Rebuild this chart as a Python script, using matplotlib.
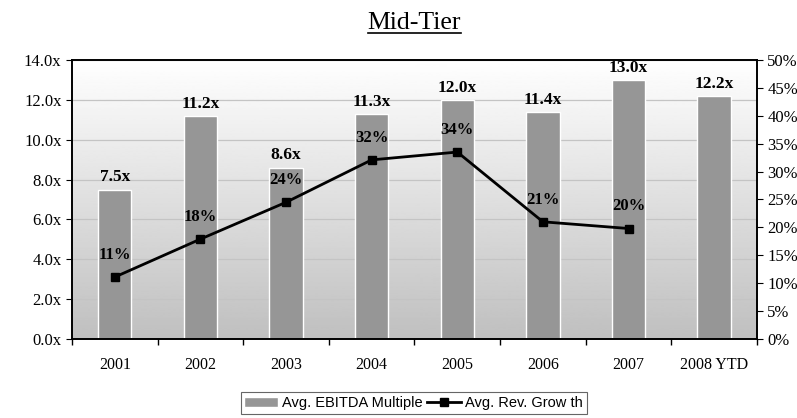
import numpy as np
import matplotlib.pyplot as plt
from matplotlib.ticker import FuncFormatter, FixedLocator

# ---- data ----
years = ["2001", "2002", "2003", "2004", "2005", "2006", "2007", "2008 YTD"]
ebitda_multiple = [7.5, 11.2, 8.6, 11.3, 12.0, 11.4, 13.0, 12.2]
rev_growth = [11.1, 17.9, 24.5, 32.1, 33.5, 21.0, 19.8]
rev_growth_labels = ["11%", "18%", "24%", "32%", "34%", "21%", "20%"]

serif = "Liberation Serif"
sans = "Liberation Sans"

fig = plt.figure(figsize=(7.97, 4.18), dpi=100)
ax = fig.add_axes([0.0903, 0.189, 0.8595, 0.6675])
ax2 = ax.twinx()

x = np.arange(len(years))

# gradient background (white at top -> light gray at bottom)
grad = np.linspace(0.75, 1.0, 256).reshape(-1, 1)
ax.imshow(grad, extent=[0, 1, 0, 1], transform=ax.transAxes, origin="lower",
          cmap="gray", vmin=0, vmax=1, aspect="auto", zorder=0)

ax.set_xlim(-0.5, len(years) - 0.5)
ax.set_ylim(0, 14)
ax.yaxis.set_major_locator(FixedLocator(np.arange(0, 14.1, 2)))
ax.yaxis.set_major_formatter(FuncFormatter(lambda v, p: f"{v:.1f}x"))
ax.grid(axis="y", color="#c4c4c4", linewidth=0.9, zorder=1)

bars = ax.bar(x, ebitda_multiple, width=0.39, color="#969696", edgecolor="white",
              linewidth=1.0, zorder=2, label="Avg. EBITDA Multiple")
for xi, v in zip(x, ebitda_multiple):
    ax.annotate(f"{v:.1f}x", (xi, v), xytext=(0, 3), textcoords="offset points",
                ha="center", va="bottom", fontsize=12.5, fontweight="bold",
                family=serif, zorder=5)

ax.set_xticks(x)
ax.set_xticklabels(years, family=serif, fontsize=11.5)
ax.set_xticks(np.arange(-0.5, len(years) - 0.4, 1.0), minor=True)
ax.tick_params(axis="x", which="major", length=0, pad=13)
ax.tick_params(axis="x", which="minor", length=4, direction="out", width=1)
ax.tick_params(axis="y", length=4, direction="out", labelsize=12)
for lab in ax.get_yticklabels():
    lab.set_family(serif)

# line on secondary axis
ax2.set_ylim(0, 50)
ax2.yaxis.set_major_locator(FixedLocator(np.arange(0, 51, 5)))
ax2.yaxis.set_major_formatter(FuncFormatter(lambda v, p: f"{v:.0f}%"))
ax2.tick_params(axis="y", length=4, direction="out", labelsize=12)
for lab in ax2.get_yticklabels():
    lab.set_family(serif)
xl = x[:len(rev_growth)]
line, = ax2.plot(xl, rev_growth, color="black", linewidth=2, marker="s",
                 markersize=6, label="Avg. Rev. Grow th")
for xi, v, t in zip(xl, rev_growth, rev_growth_labels):
    ax2.annotate(t, (xi, v), xytext=(0, 16), textcoords="offset points",
                 ha="center", va="center", fontsize=12, fontweight="bold",
                 family=serif)

for a in (ax, ax2):
    for s in a.spines.values():
        s.set_color("black")
        s.set_linewidth(1.2)

title = fig.text(0.52, 0.93, "Mid-Tier", ha="center", va="baseline",
                 fontsize=18.5, family=serif)
# underline for title, sized to the text
fig.canvas.draw()
bb = title.get_window_extent().transformed(fig.transFigure.inverted())
fig.add_artist(plt.Line2D([bb.x0, bb.x1], [0.921, 0.921], color="black",
                          linewidth=1.2, transform=fig.transFigure))

leg = fig.legend([bars, line], ["Avg. EBITDA Multiple", "Avg. Rev. Grow th"],
                 loc="center", bbox_to_anchor=(0.519, 0.036), ncol=2,
                 frameon=True, fancybox=False, edgecolor="#404040",
                 prop={"family": sans, "size": 10.5}, handlelength=2.3,
                 handletextpad=0.3, columnspacing=0.3, borderpad=0.25)
leg.get_frame().set_linewidth(0.8)

fig.savefig("out.png", dpi=100)
